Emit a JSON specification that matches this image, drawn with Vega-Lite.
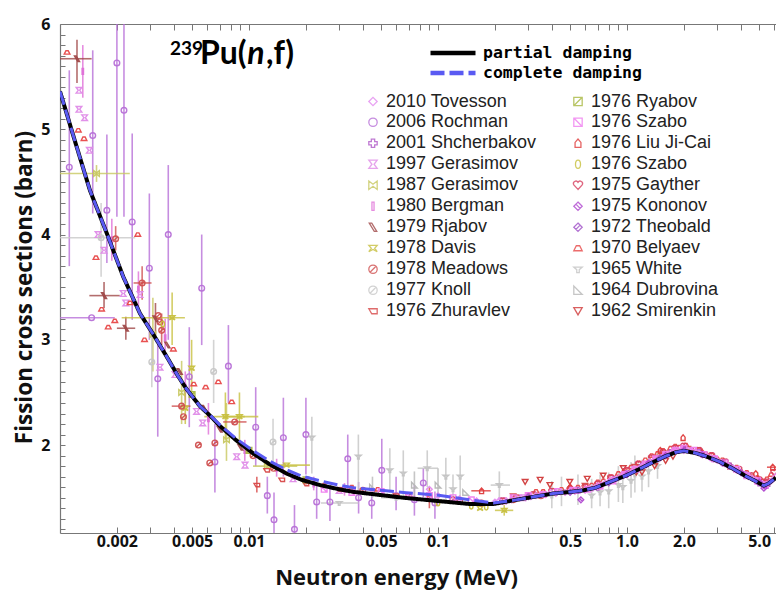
{
"$schema": "https://vega.github.io/schema/vega-lite/v6.json",
"width": 716, "height": 509,
"autosize": "none",
"padding": {"left": 60, "top": 24, "right": 0, "bottom": 58},
"background": "white",
"config": {"view": {"stroke": null}, "font": "Open Sans"},
"datasets": {
"curve": [
{"m":"partial damping","e":0.001,"y":5.36},{"m":"partial damping","e":0.00118,"y":4.93},{"m":"partial damping","e":0.00144,"y":4.42},{"m":"partial damping","e":0.00177,"y":4.01},{"m":"partial damping","e":0.00216,"y":3.60},{"m":"partial damping","e":0.00265,"y":3.25},{"m":"partial damping","e":0.00312,"y":3.05},{"m":"partial damping","e":0.00367,"y":2.84},{"m":"partial damping","e":0.0042,"y":2.66},{"m":"partial damping","e":0.00468,"y":2.53},{"m":"partial damping","e":0.0055,"y":2.37},{"m":"partial damping","e":0.0063,"y":2.27},{"m":"partial damping","e":0.00703,"y":2.18},{"m":"partial damping","e":0.0085,"y":2.05},{"m":"partial damping","e":0.01054,"y":1.92},{"m":"partial damping","e":0.0128,"y":1.82},{"m":"partial damping","e":0.0158,"y":1.73},{"m":"partial damping","e":0.019,"y":1.67},{"m":"partial damping","e":0.0238,"y":1.62},{"m":"partial damping","e":0.03,"y":1.58},{"m":"partial damping","e":0.0356,"y":1.556},{"m":"partial damping","e":0.05,"y":1.525},{"m":"partial damping","e":0.0655,"y":1.50},{"m":"partial damping","e":0.0984,"y":1.47},{"m":"partial damping","e":0.148,"y":1.44},{"m":"partial damping","e":0.196,"y":1.44},{"m":"partial damping","e":0.25,"y":1.475},{"m":"partial damping","e":0.3,"y":1.50},{"m":"partial damping","e":0.407,"y":1.54},{"m":"partial damping","e":0.5,"y":1.555},{"m":"partial damping","e":0.587,"y":1.57},{"m":"partial damping","e":0.68,"y":1.595},{"m":"partial damping","e":0.8,"y":1.645},{"m":"partial damping","e":1.0,"y":1.715},{"m":"partial damping","e":1.2,"y":1.785},{"m":"partial damping","e":1.38,"y":1.84},{"m":"partial damping","e":1.6,"y":1.895},{"m":"partial damping","e":1.8,"y":1.93},{"m":"partial damping","e":2.0,"y":1.945},{"m":"partial damping","e":2.3,"y":1.925},{"m":"partial damping","e":2.6,"y":1.895},{"m":"partial damping","e":3.1,"y":1.84},{"m":"partial damping","e":3.6,"y":1.78},{"m":"partial damping","e":4.2,"y":1.71},{"m":"partial damping","e":4.7,"y":1.665},{"m":"partial damping","e":5.1,"y":1.63},{"m":"partial damping","e":5.3,"y":1.615},{"m":"partial damping","e":5.6,"y":1.635},{"m":"partial damping","e":6.14,"y":1.69},
{"m":"complete damping","e":0.001,"y":5.36},{"m":"complete damping","e":0.00118,"y":4.93},{"m":"complete damping","e":0.00144,"y":4.42},{"m":"complete damping","e":0.00177,"y":4.01},{"m":"complete damping","e":0.00216,"y":3.60},{"m":"complete damping","e":0.00265,"y":3.25},{"m":"complete damping","e":0.00312,"y":3.05},{"m":"complete damping","e":0.00367,"y":2.84},{"m":"complete damping","e":0.0042,"y":2.66},{"m":"complete damping","e":0.00468,"y":2.53},{"m":"complete damping","e":0.0055,"y":2.37},{"m":"complete damping","e":0.0063,"y":2.275},{"m":"complete damping","e":0.00703,"y":2.19},{"m":"complete damping","e":0.0085,"y":2.065},{"m":"complete damping","e":0.01054,"y":1.945},{"m":"complete damping","e":0.0128,"y":1.85},{"m":"complete damping","e":0.0158,"y":1.765},{"m":"complete damping","e":0.019,"y":1.705},{"m":"complete damping","e":0.0238,"y":1.66},{"m":"complete damping","e":0.03,"y":1.62},{"m":"complete damping","e":0.0356,"y":1.596},{"m":"complete damping","e":0.05,"y":1.57},{"m":"complete damping","e":0.0655,"y":1.55},{"m":"complete damping","e":0.0984,"y":1.525},{"m":"complete damping","e":0.148,"y":1.48},{"m":"complete damping","e":0.196,"y":1.45},{"m":"complete damping","e":0.25,"y":1.475},{"m":"complete damping","e":0.3,"y":1.50},{"m":"complete damping","e":0.407,"y":1.54},{"m":"complete damping","e":0.5,"y":1.555},{"m":"complete damping","e":0.587,"y":1.57},{"m":"complete damping","e":0.68,"y":1.595},{"m":"complete damping","e":0.8,"y":1.645},{"m":"complete damping","e":1.0,"y":1.715},{"m":"complete damping","e":1.2,"y":1.785},{"m":"complete damping","e":1.38,"y":1.84},{"m":"complete damping","e":1.6,"y":1.895},{"m":"complete damping","e":1.8,"y":1.93},{"m":"complete damping","e":2.0,"y":1.945},{"m":"complete damping","e":2.3,"y":1.925},{"m":"complete damping","e":2.6,"y":1.895},{"m":"complete damping","e":3.1,"y":1.84},{"m":"complete damping","e":3.6,"y":1.78},{"m":"complete damping","e":4.2,"y":1.71},{"m":"complete damping","e":4.7,"y":1.665},{"m":"complete damping","e":5.1,"y":1.63},{"m":"complete damping","e":5.3,"y":1.615},{"m":"complete damping","e":5.6,"y":1.635},{"m":"complete damping","e":6.14,"y":1.69}
],
"label": [
{"k":"sup","t":"239","tx":0.00382,"ty":5.705},
{"k":"main","t":"Pu(","tx":0.0055,"ty":5.62},
{"k":"it","t":"n","tx":0.0098,"ty":5.62},
{"k":"main","t":",f)","tx":0.0123,"ty":5.62}
],
"pts": [
{"s":"2006 Rochman","e":0.00112,"y":4.64,"yl":3.70,"yh":5.56},
{"s":"2006 Rochman","e":0.00149,"y":4.94,"yl":4.2,"yh":5.75},
{"s":"2006 Rochman","e":0.0020,"y":5.63,"yl":4.17,"yh":6.2},
{"s":"2006 Rochman","e":0.00218,"y":5.18,"yl":4.17,"yh":6.2},
{"s":"2006 Rochman","e":0.00177,"y":4.23,"yl":3.73,"yh":4.95},
{"s":"2006 Rochman","e":0.00241,"y":4.12,"yl":3.19,"yh":4.96},
{"s":"2006 Rochman","e":0.00297,"y":3.68,"yl":3.0,"yh":4.39},
{"s":"2006 Rochman","e":0.00374,"y":4.0,"yl":3.0,"yh":4.66},
{"s":"2006 Rochman","e":0.00562,"y":3.49,"yl":2.95,"yh":4.0},
{"s":"2006 Rochman","e":0.00329,"y":2.63,"yl":2.08,"yh":3.0},
{"s":"2006 Rochman","e":0.00483,"y":2.65,"yl":2.17,"yh":3.12},
{"s":"2006 Rochman","e":0.00778,"y":2.75,"yl":2.40,"yh":3.14},
{"s":"2006 Rochman","e":0.01085,"y":2.17,"yl":1.80,"yh":2.55},
{"s":"2006 Rochman","e":0.0152,"y":2.07,"yl":1.70,"yh":2.45},
{"s":"2006 Rochman","e":0.020,"y":2.10,"yl":1.72,"yh":2.45},
{"s":"2006 Rochman","e":0.0333,"y":1.87,"yl":1.55,"yh":2.10},
{"s":"2006 Rochman","e":0.01356,"y":1.29,"yl":1.165,"yh":1.55},
{"s":"2006 Rochman","e":0.0174,"y":1.20,"yl":1.165,"yh":1.43},
{"s":"2006 Rochman","e":0.0066,"y":1.84,"yl":1.55,"yh":2.2},
{"s":"2006 Rochman","e":0.0504,"y":1.76,"yl":1.55,"yh":2.06},
{"s":"2006 Rochman","e":0.0228,"y":1.46,"yl":1.30,"yh":1.65},
{"s":"2006 Rochman","e":0.0268,"y":1.46,"yl":1.28,"yh":1.62},
{"s":"2006 Rochman","e":0.0446,"y":1.45,"yl":1.30,"yh":1.60},
{"s":"2006 Rochman","e":0.0836,"y":1.64,"yl":1.50,"yh":1.78},
{"s":"2006 Rochman","e":0.0963,"y":1.45,"yl":1.30,"yh":1.56},
{"s":"2006 Rochman","e":0.00147,"y":3.21,"xl":0.001,"xh":0.00195},
{"s":"2006 Rochman","e":0.0125,"y":1.52,"yl":1.35,"yh":1.7},
{"s":"2006 Rochman","e":0.038,"y":1.50,"yl":1.35,"yh":1.65},
{"s":"2006 Rochman","e":0.06,"y":1.52,"yl":1.38,"yh":1.7},
{"s":"2006 Rochman","e":0.075,"y":1.48,"yl":1.33,"yh":1.62},
{"s":"1980 Bergman","e":0.00132,"y":5.55,"yl":5.3,"yh":5.8},
{"s":"1980 Bergman","e":0.00188,"y":3.95,"yl":3.75,"yh":4.15},
{"s":"1980 Bergman","e":0.0026,"y":3.48,"yl":3.3,"yh":3.65},
{"s":"1980 Bergman","e":0.0036,"y":3.02,"yl":2.85,"yh":3.2},
{"s":"1980 Bergman","e":0.0046,"y":2.55,"yl":2.4,"yh":2.7},
{"s":"1980 Bergman","e":0.0061,"y":2.25,"yl":2.1,"yh":2.4},
{"s":"1980 Bergman","e":0.0095,"y":1.95,"yl":1.85,"yh":2.05},
{"s":"1980 Bergman","e":0.014,"y":1.78,"yl":1.7,"yh":1.87},
{"s":"1980 Bergman","e":0.022,"y":1.63,"yl":1.57,"yh":1.7},
{"s":"1980 Bergman","e":0.032,"y":1.58,"yl":1.52,"yh":1.64},
{"s":"1997 Gerasimov","e":0.00126,"y":5.37},{"s":"1997 Gerasimov","e":0.00126,"y":5.19},{"s":"1997 Gerasimov","e":0.00135,"y":5.11},{"s":"1997 Gerasimov","e":0.00143,"y":4.80},{"s":"1997 Gerasimov","e":0.00159,"y":4.0},{"s":"1997 Gerasimov","e":0.00171,"y":3.85},{"s":"1997 Gerasimov","e":0.00216,"y":3.44},{"s":"1997 Gerasimov","e":0.00223,"y":3.35},{"s":"1997 Gerasimov","e":0.00265,"y":3.43},{"s":"1997 Gerasimov","e":0.00338,"y":2.74},{"s":"1997 Gerasimov","e":0.00406,"y":2.67},{"s":"1997 Gerasimov","e":0.00528,"y":2.32},{"s":"1997 Gerasimov","e":0.00569,"y":2.21},{"s":"1997 Gerasimov","e":0.00861,"y":1.89},{"s":"1997 Gerasimov","e":0.00953,"y":1.81},{"s":"1997 Gerasimov","e":0.0171,"y":1.68},{"s":"1997 Gerasimov","e":0.03,"y":1.57},{"s":"1997 Gerasimov","e":0.045,"y":1.55},{"s":"1997 Gerasimov","e":0.22,"y":1.47},{"s":"1997 Gerasimov","e":0.28,"y":1.5},
{"s":"1987 Gerasimov","e":0.00156,"y":4.58,"xl":0.001,"xh":0.00234,"yl":4.5,"yh":4.66},
{"s":"1987 Gerasimov","e":0.0044,"y":2.50,"yl":2.2,"yh":2.8},
{"s":"1987 Gerasimov","e":0.0076,"y":2.05,"yl":1.85,"yh":2.4},
{"s":"1987 Gerasimov","e":0.0031,"y":3.05,"yl":2.7,"yh":3.4},
{"s":"1987 Gerasimov","e":0.0125,"y":1.80,"xl":0.0105,"xh":0.018},
{"s":"1978 Davis","e":0.00392,"y":3.21,"xl":0.00212,"xh":0.00458,"yl":2.95,"yh":3.45},
{"s":"1978 Davis","e":0.00497,"y":2.73,"yl":2.45,"yh":3.0},
{"s":"1978 Davis","e":0.0075,"y":2.27,"xl":0.0058,"xh":0.0095,"yl":2.05,"yh":2.5},
{"s":"1978 Davis","e":0.0089,"y":2.27,"xl":0.0075,"xh":0.0112,"yl":2.05,"yh":2.5},
{"s":"1978 Davis","e":0.0158,"y":1.81,"xl":0.0125,"xh":0.021},
{"s":"1978 Davis","e":0.167,"y":1.40},
{"s":"1978 Davis","e":0.224,"y":1.38,"xl":0.2,"xh":0.25,"yl":1.33,"yh":1.43},
{"s":"1978 Davis","e":0.0046,"y":2.35,"yl":2.2,"yh":2.5},
{"s":"1977 Knoll","e":0.00165,"y":3.97,"xl":0.001,"xh":0.0025,"yl":3.6,"yh":4.3},
{"s":"1977 Knoll","e":0.00306,"y":2.79,"yl":2.55,"yh":3.1},
{"s":"1977 Knoll","e":0.0065,"y":2.70,"yl":2.4,"yh":3.0},
{"s":"1977 Knoll","e":0.0134,"y":2.03,"yl":1.8,"yh":2.25},
{"s":"1965 White","e":0.0215,"y":2.07,"yl":1.73,"yh":2.27},
{"s":"1965 White","e":0.0379,"y":1.89,"yl":1.53,"yh":2.1},
{"s":"1965 White","e":0.0556,"y":1.76,"yl":1.55,"yh":1.97},
{"s":"1965 White","e":0.0655,"y":1.73,"yl":1.5,"yh":1.95},
{"s":"1965 White","e":0.0877,"y":1.78,"xl":0.078,"xh":0.1,"yl":1.6,"yh":1.95},
{"s":"1965 White","e":0.11,"y":1.70,"yl":1.48,"yh":1.88},
{"s":"1965 White","e":0.131,"y":1.70,"yl":1.5,"yh":1.9},
{"s":"1965 White","e":0.211,"y":1.62,"xl":0.19,"xh":0.24,"yl":1.48,"yh":1.75},
{"s":"1965 White","e":0.03,"y":1.45,"xl":0.024,"xh":0.038},
{"s":"1965 White","e":0.06,"y":1.50,"xl":0.05,"xh":0.07},
{"s":"1965 White","e":0.12,"y":1.58,"yl":1.45,"yh":1.72},
{"s":"1965 White","e":0.4,"y":1.52,"yl":1.40,"yh":1.66},
{"s":"1965 White","e":0.45,"y":1.56,"yl":1.42,"yh":1.7},
{"s":"1965 White","e":0.55,"y":1.57,"yl":1.43,"yh":1.72},
{"s":"1965 White","e":0.65,"y":1.52,"yl":1.4,"yh":1.68},
{"s":"1965 White","e":0.72,"y":1.55,"yl":1.42,"yh":1.72},
{"s":"1965 White","e":0.8,"y":1.56,"yl":1.40,"yh":1.74},
{"s":"1965 White","e":0.9,"y":1.62,"yl":1.46,"yh":1.80},
{"s":"1965 White","e":0.95,"y":1.6,"yl":1.45,"yh":1.77},
{"s":"1965 White","e":1.05,"y":1.66,"yl":1.5,"yh":1.84},
{"s":"1965 White","e":1.1,"y":1.72,"yl":1.55,"yh":1.9},
{"s":"1965 White","e":1.2,"y":1.70,"yl":1.56,"yh":1.86},
{"s":"1965 White","e":1.3,"y":1.75,"yl":1.6,"yh":1.9},
{"s":"1965 White","e":1.45,"y":1.80,"yl":1.68,"yh":1.95},
{"s":"1964 Dubrovina","e":0.045,"y":1.60,"yl":1.5,"yh":1.7},
{"s":"1964 Dubrovina","e":0.075,"y":1.62,"yl":1.5,"yh":1.75},
{"s":"1964 Dubrovina","e":0.1,"y":1.62,"yl":1.48,"yh":1.78},
{"s":"1964 Dubrovina","e":0.14,"y":1.55},
{"s":"1970 Belyaev","e":0.00109,"y":5.73},{"s":"1970 Belyaev","e":0.00125,"y":4.99},{"s":"1970 Belyaev","e":0.00134,"y":4.91},{"s":"1970 Belyaev","e":0.00155,"y":3.78},{"s":"1970 Belyaev","e":0.00166,"y":3.29},{"s":"1970 Belyaev","e":0.0018,"y":3.12},{"s":"1970 Belyaev","e":0.00195,"y":3.18},{"s":"1970 Belyaev","e":0.00258,"y":4.0},{"s":"1970 Belyaev","e":0.00235,"y":3.35},{"s":"1970 Belyaev","e":0.00398,"y":2.91},{"s":"1970 Belyaev","e":0.0051,"y":2.58},{"s":"1970 Belyaev","e":0.0059,"y":2.55},{"s":"1970 Belyaev","e":0.00688,"y":2.60},{"s":"1970 Belyaev","e":0.0081,"y":2.41},{"s":"1970 Belyaev","e":0.0028,"y":3.0},{"s":"1970 Belyaev","e":0.025,"y":1.62},{"s":"1970 Belyaev","e":0.035,"y":1.6},{"s":"1970 Belyaev","e":0.048,"y":1.58},
{"s":"1970 Belyaev","e":0.3,"y":1.53},{"s":"1970 Belyaev","e":0.36,"y":1.56},{"s":"1970 Belyaev","e":0.45,"y":1.58},{"s":"1970 Belyaev","e":0.55,"y":1.60},{"s":"1970 Belyaev","e":0.65,"y":1.62},{"s":"1970 Belyaev","e":0.75,"y":1.66},{"s":"1970 Belyaev","e":0.9,"y":1.73},{"s":"1970 Belyaev","e":1.05,"y":1.79},{"s":"1970 Belyaev","e":1.25,"y":1.86},{"s":"1970 Belyaev","e":1.45,"y":1.92},{"s":"1970 Belyaev","e":1.7,"y":1.97},{"s":"1970 Belyaev","e":1.9,"y":1.98},{"s":"1970 Belyaev","e":2.2,"y":1.96},{"s":"1970 Belyaev","e":2.6,"y":1.92},{"s":"1970 Belyaev","e":3.0,"y":1.87},{"s":"1970 Belyaev","e":3.5,"y":1.81},{"s":"1970 Belyaev","e":4.0,"y":1.75},{"s":"1970 Belyaev","e":4.6,"y":1.70},{"s":"1970 Belyaev","e":5.2,"y":1.66},{"s":"1970 Belyaev","e":5.8,"y":1.72},
{"s":"1970 Belyaev","e":0.33,"y":1.56},{"s":"1970 Belyaev","e":0.5,"y":1.6},{"s":"1970 Belyaev","e":0.7,"y":1.65},{"s":"1970 Belyaev","e":0.82,"y":1.7},{"s":"1970 Belyaev","e":0.97,"y":1.76},{"s":"1970 Belyaev","e":1.15,"y":1.83},{"s":"1970 Belyaev","e":1.35,"y":1.9},{"s":"1970 Belyaev","e":1.55,"y":1.95},{"s":"1970 Belyaev","e":1.8,"y":1.99},{"s":"1970 Belyaev","e":2.05,"y":2.0},{"s":"1970 Belyaev","e":2.4,"y":1.96},{"s":"1970 Belyaev","e":2.8,"y":1.91},{"s":"1970 Belyaev","e":3.2,"y":1.86},{"s":"1970 Belyaev","e":3.8,"y":1.79},{"s":"1970 Belyaev","e":4.3,"y":1.74},{"s":"1970 Belyaev","e":4.9,"y":1.69},{"s":"1970 Belyaev","e":5.5,"y":1.68},
{"s":"1962 Smirenkin","e":0.289,"y":1.65},{"s":"1962 Smirenkin","e":0.347,"y":1.67},{"s":"1962 Smirenkin","e":0.391,"y":1.62},{"s":"1962 Smirenkin","e":0.498,"y":1.65},{"s":"1962 Smirenkin","e":0.616,"y":1.68},{"s":"1962 Smirenkin","e":0.748,"y":1.71},{"s":"1962 Smirenkin","e":0.955,"y":1.78},{"s":"1962 Smirenkin","e":1.12,"y":1.74},{"s":"1962 Smirenkin","e":1.2,"y":1.74},{"s":"1962 Smirenkin","e":1.4,"y":1.80},{"s":"1962 Smirenkin","e":1.6,"y":1.85},{"s":"1962 Smirenkin","e":1.75,"y":1.89},
{"s":"1975 Gayther","e":0.22,"y":1.47},{"s":"1975 Gayther","e":0.26,"y":1.50},{"s":"1975 Gayther","e":0.32,"y":1.53},{"s":"1975 Gayther","e":0.4,"y":1.56},{"s":"1975 Gayther","e":0.5,"y":1.58},{"s":"1975 Gayther","e":0.6,"y":1.60},{"s":"1975 Gayther","e":0.7,"y":1.63},{"s":"1975 Gayther","e":0.82,"y":1.69},{"s":"1975 Gayther","e":1.0,"y":1.76},{"s":"1975 Gayther","e":1.15,"y":1.82},{"s":"1975 Gayther","e":1.35,"y":1.88},{"s":"1975 Gayther","e":1.55,"y":1.93},{"s":"1975 Gayther","e":1.8,"y":1.97},{"s":"1975 Gayther","e":2.0,"y":1.99},{"s":"1975 Gayther","e":2.4,"y":1.95},{"s":"1975 Gayther","e":2.8,"y":1.90},{"s":"1975 Gayther","e":3.3,"y":1.84},{"s":"1975 Gayther","e":3.9,"y":1.77},{"s":"1975 Gayther","e":4.5,"y":1.71},{"s":"1975 Gayther","e":5.0,"y":1.67},{"s":"1975 Gayther","e":5.5,"y":1.65},{"s":"1975 Gayther","e":6.0,"y":1.74},
{"s":"1976 Liu Ji-Cai","e":1.98,"y":2.07},{"s":"1976 Liu Ji-Cai","e":0.17,"y":1.566,"xl":0.15,"xh":0.19},{"s":"1976 Liu Ji-Cai","e":0.5,"y":1.6},{"s":"1976 Liu Ji-Cai","e":1.5,"y":1.95},{"s":"1976 Liu Ji-Cai","e":2.5,"y":1.93},{"s":"1976 Liu Ji-Cai","e":3.5,"y":1.8},{"s":"1976 Liu Ji-Cai","e":4.8,"y":1.73},{"s":"1976 Liu Ji-Cai","e":5.9,"y":1.79,"xl":5.5,"xh":6.14},
{"s":"1976 Zhuravlev","e":0.011,"y":1.62,"yl":1.55,"yh":1.7},{"s":"1976 Zhuravlev","e":0.0124,"y":1.76},{"s":"1976 Zhuravlev","e":0.0149,"y":1.67},{"s":"1976 Zhuravlev","e":0.02,"y":1.63},{"s":"1976 Zhuravlev","e":0.03,"y":1.58},{"s":"1976 Zhuravlev","e":0.06,"y":1.52},{"s":"1976 Zhuravlev","e":0.09,"y":1.50,"yl":1.4,"yh":1.6},{"s":"1976 Zhuravlev","e":0.13,"y":1.47},{"s":"1976 Zhuravlev","e":0.25,"y":1.52},{"s":"1976 Zhuravlev","e":0.6,"y":1.62},{"s":"1976 Zhuravlev","e":1.1,"y":1.8},{"s":"1976 Zhuravlev","e":2.1,"y":1.97},
{"s":"1978 Meadows","e":0.00272,"y":3.54,"xl":0.00245,"xh":0.00305,"yl":3.38,"yh":3.7},
{"s":"1978 Meadows","e":0.00197,"y":3.96,"yl":3.85,"yh":4.08},
{"s":"1978 Meadows","e":0.00345,"y":3.09,"yl":2.95,"yh":3.25},
{"s":"1978 Meadows","e":0.00331,"y":3.23},{"s":"1978 Meadows","e":0.00338,"y":3.17},
{"s":"1978 Meadows","e":0.0044,"y":2.37,"xl":0.0039,"xh":0.0049},
{"s":"1978 Meadows","e":0.0045,"y":2.27},{"s":"1978 Meadows","e":0.0054,"y":2.0},{"s":"1978 Meadows","e":0.0062,"y":1.83},{"s":"1978 Meadows","e":0.0066,"y":2.02},
{"s":"1978 Meadows","e":0.0084,"y":2.22,"xl":0.0073,"xh":0.0097},
{"s":"1978 Meadows","e":0.0105,"y":1.9},{"s":"1978 Meadows","e":0.0135,"y":1.78},{"s":"1978 Meadows","e":0.02,"y":1.66},{"s":"1978 Meadows","e":0.04,"y":1.57},{"s":"1978 Meadows","e":0.07,"y":1.52},{"s":"1978 Meadows","e":0.12,"y":1.48},{"s":"1978 Meadows","e":0.17,"y":1.45},{"s":"1978 Meadows","e":0.25,"y":1.48},{"s":"1978 Meadows","e":0.35,"y":1.52},
{"s":"1979 Rjabov","e":0.00123,"y":5.67,"xl":0.001,"xh":0.00147,"yl":5.44,"yh":5.85},
{"s":"1979 Rjabov","e":0.00171,"y":3.42,"xl":0.00143,"xh":0.00207,"yl":3.3,"yh":3.55},
{"s":"1979 Rjabov","e":0.00223,"y":3.11,"xl":0.002,"xh":0.0025,"yl":3.0,"yh":3.22},
{"s":"1979 Rjabov","e":0.0032,"y":3.2,"yl":3.05,"yh":3.35},
{"s":"1979 Rjabov","e":0.0037,"y":2.95},{"s":"1979 Rjabov","e":0.0043,"y":2.7},{"s":"1979 Rjabov","e":0.0058,"y":2.35},{"s":"1979 Rjabov","e":0.007,"y":2.15},{"s":"1979 Rjabov","e":0.009,"y":1.98},
{"s":"2001 Shcherbakov","e":0.55,"y":1.57},{"s":"2001 Shcherbakov","e":0.7,"y":1.6},{"s":"2001 Shcherbakov","e":0.85,"y":1.67},{"s":"2001 Shcherbakov","e":1.0,"y":1.73},{"s":"2001 Shcherbakov","e":1.2,"y":1.80},{"s":"2001 Shcherbakov","e":1.45,"y":1.87},{"s":"2001 Shcherbakov","e":1.7,"y":1.93},{"s":"2001 Shcherbakov","e":2.0,"y":1.96},{"s":"2001 Shcherbakov","e":2.4,"y":1.93},{"s":"2001 Shcherbakov","e":2.9,"y":1.87},{"s":"2001 Shcherbakov","e":3.5,"y":1.80},{"s":"2001 Shcherbakov","e":4.2,"y":1.72},{"s":"2001 Shcherbakov","e":5.0,"y":1.64},{"s":"2001 Shcherbakov","e":5.5,"y":1.62},
{"s":"2010 Tovesson","e":0.1,"y":1.52},{"s":"2010 Tovesson","e":0.13,"y":1.49},{"s":"2010 Tovesson","e":0.16,"y":1.47},{"s":"2010 Tovesson","e":0.09,"y":1.58},
{"s":"2010 Tovesson","e":0.2,"y":1.46},{"s":"2010 Tovesson","e":0.23,"y":1.47},{"s":"2010 Tovesson","e":0.26,"y":1.49},{"s":"2010 Tovesson","e":0.29,"y":1.50},{"s":"2010 Tovesson","e":0.33,"y":1.52},{"s":"2010 Tovesson","e":0.37,"y":1.53},{"s":"2010 Tovesson","e":0.42,"y":1.54},{"s":"2010 Tovesson","e":0.47,"y":1.55},{"s":"2010 Tovesson","e":0.53,"y":1.56},{"s":"2010 Tovesson","e":0.6,"y":1.57},{"s":"2010 Tovesson","e":0.66,"y":1.59},{"s":"2010 Tovesson","e":0.73,"y":1.62},{"s":"2010 Tovesson","e":0.8,"y":1.65},{"s":"2010 Tovesson","e":0.88,"y":1.68},{"s":"2010 Tovesson","e":0.96,"y":1.71},{"s":"2010 Tovesson","e":1.05,"y":1.74},{"s":"2010 Tovesson","e":1.15,"y":1.77},{"s":"2010 Tovesson","e":1.26,"y":1.81},{"s":"2010 Tovesson","e":1.38,"y":1.85},{"s":"2010 Tovesson","e":1.5,"y":1.88},{"s":"2010 Tovesson","e":1.65,"y":1.91},{"s":"2010 Tovesson","e":1.8,"y":1.94},{"s":"2010 Tovesson","e":1.95,"y":1.955},{"s":"2010 Tovesson","e":2.1,"y":1.95},{"s":"2010 Tovesson","e":2.3,"y":1.935},{"s":"2010 Tovesson","e":2.5,"y":1.91},{"s":"2010 Tovesson","e":2.75,"y":1.88},{"s":"2010 Tovesson","e":3.0,"y":1.855},{"s":"2010 Tovesson","e":3.3,"y":1.82},{"s":"2010 Tovesson","e":3.65,"y":1.78},{"s":"2010 Tovesson","e":4.0,"y":1.74},{"s":"2010 Tovesson","e":4.4,"y":1.70},{"s":"2010 Tovesson","e":4.8,"y":1.67},{"s":"2010 Tovesson","e":5.2,"y":1.635},{"s":"2010 Tovesson","e":5.5,"y":1.63},{"s":"2010 Tovesson","e":5.8,"y":1.66},{"s":"2010 Tovesson","e":6.1,"y":1.70},
{"s":"2010 Tovesson","e":0.21,"y":1.47},{"s":"2010 Tovesson","e":0.245,"y":1.48},{"s":"2010 Tovesson","e":0.275,"y":1.5},{"s":"2010 Tovesson","e":0.31,"y":1.51},{"s":"2010 Tovesson","e":0.35,"y":1.53},{"s":"2010 Tovesson","e":0.395,"y":1.55},{"s":"2010 Tovesson","e":0.445,"y":1.555},{"s":"2010 Tovesson","e":0.5,"y":1.565},{"s":"2010 Tovesson","e":0.565,"y":1.57},{"s":"2010 Tovesson","e":0.63,"y":1.585},{"s":"2010 Tovesson","e":0.695,"y":1.61},{"s":"2010 Tovesson","e":0.765,"y":1.64},{"s":"2010 Tovesson","e":0.84,"y":1.67},{"s":"2010 Tovesson","e":0.92,"y":1.7},{"s":"2010 Tovesson","e":1.0,"y":1.73},{"s":"2010 Tovesson","e":1.1,"y":1.76},{"s":"2010 Tovesson","e":1.2,"y":1.8},{"s":"2010 Tovesson","e":1.32,"y":1.84},{"s":"2010 Tovesson","e":1.44,"y":1.87},{"s":"2010 Tovesson","e":1.57,"y":1.9},{"s":"2010 Tovesson","e":1.72,"y":1.93},{"s":"2010 Tovesson","e":1.87,"y":1.95},{"s":"2010 Tovesson","e":2.2,"y":1.945},{"s":"2010 Tovesson","e":2.4,"y":1.925},{"s":"2010 Tovesson","e":2.62,"y":1.9},{"s":"2010 Tovesson","e":2.87,"y":1.87},{"s":"2010 Tovesson","e":3.15,"y":1.835},{"s":"2010 Tovesson","e":3.45,"y":1.8},{"s":"2010 Tovesson","e":3.8,"y":1.76},{"s":"2010 Tovesson","e":4.2,"y":1.72},{"s":"2010 Tovesson","e":4.6,"y":1.685},{"s":"2010 Tovesson","e":5.0,"y":1.65},{"s":"2010 Tovesson","e":5.35,"y":1.62},
{"s":"1976 Szabo","e":0.25,"y":1.5},{"s":"1976 Szabo","e":0.3,"y":1.52},{"s":"1976 Szabo","e":0.36,"y":1.53},{"s":"1976 Szabo","e":0.43,"y":1.56},{"s":"1976 Szabo","e":0.52,"y":1.57},{"s":"1976 Szabo","e":0.62,"y":1.58},{"s":"1976 Szabo","e":0.72,"y":1.61},{"s":"1976 Szabo","e":0.84,"y":1.66},{"s":"1976 Szabo","e":0.97,"y":1.72},{"s":"1976 Szabo","e":1.1,"y":1.77},{"s":"1976 Szabo","e":1.25,"y":1.82},{"s":"1976 Szabo","e":1.42,"y":1.87},{"s":"1976 Szabo","e":1.6,"y":1.91},{"s":"1976 Szabo","e":1.8,"y":1.95},{"s":"1976 Szabo","e":2.0,"y":1.97},{"s":"1976 Szabo","e":2.25,"y":1.95},{"s":"1976 Szabo","e":2.55,"y":1.91},{"s":"1976 Szabo","e":2.9,"y":1.87},{"s":"1976 Szabo","e":3.3,"y":1.83},{"s":"1976 Szabo","e":3.8,"y":1.77},{"s":"1976 Szabo","e":4.3,"y":1.71},{"s":"1976 Szabo","e":4.9,"y":1.66},{"s":"1976 Szabo","e":5.4,"y":1.62},
{"s":"1976 Szabo","e":0.025,"y":1.58},{"s":"1976 Szabo","e":0.035,"y":1.55},{"s":"1976 Szabo","e":0.05,"y":1.56},{"s":"1976 Szabo","e":0.07,"y":1.52},{"s":"1976 Szabo","e":0.09,"y":1.52},{"s":"1976 Szabo","e":0.12,"y":1.5},{"s":"1976 Szabo","e":0.15,"y":1.48},
{"s":"1975 Kononov","e":0.57,"y":1.48},{"s":"1975 Kononov","e":1.0,"y":1.72},{"s":"1975 Kononov","e":1.3,"y":1.83},{"s":"1975 Kononov","e":1.6,"y":1.90},{"s":"1975 Kononov","e":2.0,"y":1.95},{"s":"1975 Kononov","e":2.5,"y":1.91},{"s":"1975 Kononov","e":3.2,"y":1.83},{"s":"1975 Kononov","e":4.0,"y":1.74},{"s":"1975 Kononov","e":5.0,"y":1.65},{"s":"1975 Kononov","e":5.3,"y":1.59},
{"s":"1972 Theobald","e":0.3,"y":1.51},{"s":"1972 Theobald","e":0.5,"y":1.55},{"s":"1972 Theobald","e":0.8,"y":1.64},{"s":"1972 Theobald","e":1.5,"y":1.88},
{"s":"1976 Ryabov","e":0.005,"y":2.48},{"s":"1976 Ryabov","e":0.01,"y":1.95},{"s":"1976 Ryabov","e":0.02,"y":1.67},
{"s":"1976 Szabo*","e":0.1,"y":1.45},{"s":"1976 Szabo*","e":0.15,"y":1.42},{"s":"1976 Szabo*","e":0.18,"y":1.41},{"s":"1976 Szabo*","e":0.0035,"y":3.15}
]
},
"layer": [
{
 "data": {"name": "pts"},
 "transform": [{"filter": "isValid(datum.yl)"}],
 "mark": {"type": "rule", "strokeWidth": 1.6, "opacity": 0.8, "clip": true},
 "encoding": {
  "x": {"field": "e", "type": "quantitative", "scale": {"type": "log", "domain": [0.001, 6.14], "nice": false},
   "axis": {"orient": "bottom", "title": "Neutron energy (MeV)", "values": [0.002,0.003,0.004,0.005,0.006,0.007,0.008,0.009,0.01,0.02,0.03,0.04,0.05,0.06,0.07,0.08,0.09,0.1,0.2,0.3,0.4,0.5,0.6,0.7,0.8,0.9,1,2,3,4,5,6],
    "labelExpr": "datum.value == 0.002 ? '0.002' : datum.value == 0.005 ? '0.005' : datum.value == 0.01 ? '0.01' : datum.value == 0.05 ? '0.05' : datum.value == 0.1 ? '0.1' : datum.value == 0.5 ? '0.5' : datum.value == 1 ? '1.0' : datum.value == 2 ? '2.0' : datum.value == 5 ? '5.0' : ''",
    "labelOverlap": false, "labelFlush": false, "labelFont": "Open Sans", "labelFontWeight": "bold", "labelFontSize": 16, "labelColor": "#111", "labelPadding": 6,
    "tickSize": -6, "tickColor": "#777", "domainColor": "#777", "domainWidth": 1.2, "grid": false,
    "titleFont": "Open Sans", "titleFontSize": 22, "titleFontWeight": "bold", "titleColor": "#111", "titleX": 336, "titlePadding": 18}},
  "y": {"field": "yl", "type": "quantitative", "scale": {"domain": [1.165, 6], "nice": false, "zero": false},
   "axis": {"title": "Fission cross sections (barn)", "values": [1.2,1.3,1.4,1.5,1.6,1.7,1.8,1.9,2,2.1,2.2,2.3,2.4,2.5,2.6,2.7,2.8,2.9,3,3.1,3.2,3.3,3.4,3.5,3.6,3.7,3.8,3.9,4,4.1,4.2,4.3,4.4,4.5,4.6,4.7,4.8,4.9,5,5.1,5.2,5.3,5.4,5.5,5.6,5.7,5.8,5.9,6],
    "labelExpr": "abs(datum.value - round(datum.value)) < 0.001 ? format(datum.value, 'd') : ''",
    "labelOverlap": false, "labelFlush": false, "labelFont": "Open Sans", "labelFontWeight": "bold", "labelFontSize": 16, "labelColor": "#111", "labelPadding": 15,
    "tickSize": -5, "tickColor": "#777", "domainColor": "#777", "domainWidth": 1.2, "grid": false,
    "titleFont": "Open Sans", "titleFontSize": 22.5, "titleFontWeight": "bold", "titleColor": "#111", "titlePadding": 4, "titleY": 263}},
  "y2": {"field": "yh"},
  "color": {"field": "s", "type": "nominal"}
 }
},
{
 "data": {"name": "pts"},
 "transform": [{"filter": "isValid(datum.xl)"}],
 "mark": {"type": "rule", "strokeWidth": 1.6, "opacity": 0.8, "clip": true},
 "encoding": {
  "x": {"field": "xl", "type": "quantitative", "scale": {"type": "log", "domain": [0.001, 6.14], "nice": false}, "axis": null},
  "x2": {"field": "xh"},
  "y": {"field": "y", "type": "quantitative", "scale": {"domain": [1.165, 6], "nice": false, "zero": false}, "axis": null},
  "color": {"field": "s", "type": "nominal"}
 }
},
{
 "data": {"name": "pts"},
 "mark": {"type": "point", "filled": false, "size": 32, "strokeWidth": 1.4, "opacity": 0.95, "clip": true},
 "encoding": {
  "x": {"field": "e", "type": "quantitative", "scale": {"type": "log", "domain": [0.001, 6.14], "nice": false}, "axis": null},
  "y": {"field": "y", "type": "quantitative", "scale": {"domain": [1.165, 6], "nice": false, "zero": false}, "axis": null},
  "color": {"field": "s", "type": "nominal",
   "scale": {"domain": ["2010 Tovesson","2006 Rochman","2001 Shcherbakov","1997 Gerasimov","1987 Gerasimov","1980 Bergman","1979 Rjabov","1978 Davis","1978 Meadows","1977 Knoll","1976 Zhuravlev","1976 Ryabov","1976 Szabo","1976 Liu Ji-Cai","1976 Szabo*","1975 Gayther","1975 Kononov","1972 Theobald","1970 Belyaev","1965 White","1964 Dubrovina","1962 Smirenkin"],
    "range": ["#e48cf0","#b870d8","#b058c8","#e08ce8","#c8c860","#e070d8","#a04848","#c8c040","#d05050","#c8c8c8","#d84848","#a8b840","#f07ef0","#e03c3c","#c8c03c","#d84060","#b048d0","#a050c8","#e84848","#c4c4c4","#b8b8b8","#d03838"]},
   "legend": {"title": null, "orient": "none", "legendX": 304, "legendY": 67, "columns": 2, "padding": 0, "labelFont": "Liberation Sans", "labelFontSize": 18, "labelColor": "#222", "symbolSize": 70, "symbolStrokeWidth": 1.3, "clipHeight": 20.5, "rowPadding": 0, "columnPadding": 32, "labelOffset": 4, "labelLimit": 300, "labelExpr": "replace(datum.label, '*', '')"}},
  "shape": {"field": "s", "type": "nominal",
   "scale": {"domain": ["2010 Tovesson","2006 Rochman","2001 Shcherbakov","1997 Gerasimov","1987 Gerasimov","1980 Bergman","1979 Rjabov","1978 Davis","1978 Meadows","1977 Knoll","1976 Zhuravlev","1976 Ryabov","1976 Szabo","1976 Liu Ji-Cai","1976 Szabo*","1975 Gayther","1975 Kononov","1972 Theobald","1970 Belyaev","1965 White","1964 Dubrovina","1962 Smirenkin"],
    "range": ["diamond","circle","cross","M-1,-1L1,-1L0.25,0L1,1L-1,1L-0.25,0Z","M-1,-1L0,-0.25L1,-1L1,1L0,0.25L-1,1Z","M-0.25,-1L0.25,-1L0.25,1L-0.25,1Z","M-0.9,-1L-0.3,-1L0.9,1L0.3,1Z","M-1,-0.7L1,-0.7L0.4,0L1,0.8L0,0.3L-1,0.8L-0.4,0Z","M-1,0A1,1 0 1,0 1,0A1,1 0 1,0 -1,0ZM-0.7,0.7L0.7,-0.7","M-1,0A1,1 0 1,0 1,0A1,1 0 1,0 -1,0ZM-0.7,0.7L0.7,-0.7","M-1,-0.6L1,-0.6L1,0.6L-0.3,0.6Z","M-1,-1L1,-1L1,1L-1,1ZM-1,1L1,-1","M-1,-1L1,-1L1,1L-1,1ZM-1,-1L1,1","M-0.7,1L-0.7,-0.2L0,-1L0.7,-0.2L0.7,1Z","M0,-1A0.6,1 0 1,1 0,1A0.6,1 0 1,1 0,-1Z","M0,1L-1,-0.1A0.5,0.5 0 0,1 0,-0.7A0.5,0.5 0 0,1 1,-0.1Z","M0,-1L1,0L0,1L-1,0ZM-0.5,-0.5L0.5,0.5","M0,-1L1,0L0,1L-1,0ZM-0.5,0.5L0.5,-0.5","M-1,0.6L1,0.6L0.4,-0.6L-0.4,-0.6Z","M-1,-0.5L1,-0.5L0.3,0.1L0.3,0.8L-0.3,0.8L-0.3,0.1Z","M-1,1L1,1L-1,-1Z","triangle-down"]},
   "legend": {"title": null, "orient": "none", "legendX": 304, "legendY": 67, "columns": 2, "padding": 0, "labelFont": "Liberation Sans", "labelFontSize": 18, "labelColor": "#222", "symbolSize": 70, "symbolStrokeWidth": 1.3, "clipHeight": 20.5, "rowPadding": 0, "columnPadding": 32, "labelOffset": 4, "labelLimit": 300, "labelExpr": "replace(datum.label, '*', '')"}}
 }
},
{
 "data": {"name": "curve"},
 "transform": [{"filter": "datum.m == 'partial damping'"}],
 "mark": {"type": "line", "strokeWidth": 4, "clip": true},
 "encoding": {
  "x": {"field": "e", "type": "quantitative", "scale": {"type": "log", "domain": [0.001, 6.14], "nice": false},
   "axis": {"orient": "top", "title": null, "labels": false, "values": [0.002,0.003,0.004,0.005,0.006,0.007,0.008,0.009,0.01,0.02,0.03,0.04,0.05,0.06,0.07,0.08,0.09,0.1,0.2,0.3,0.4,0.5,0.6,0.7,0.8,0.9,1,2,3,4,5,6], "tickSize": -6, "tickColor": "#777", "domainColor": "#777", "domainWidth": 1.2, "grid": false}},
  "y": {"field": "y", "type": "quantitative", "scale": {"domain": [1.165, 6], "nice": false, "zero": false}, "axis": null},
  "stroke": {"field": "m", "type": "nominal", "scale": {"domain": ["partial damping", "complete damping"], "range": ["#000000", "#5a5af2"]},
   "legend": {"title": null, "orient": "none", "legendX": 368, "legendY": 19, "padding": 0, "symbolType": "stroke", "symbolSize": 2025, "symbolStrokeWidth": 4.5, "clipHeight": 20, "rowPadding": 0, "labelFont": "DejaVu Sans Mono", "labelFontWeight": "bold", "labelFontSize": 16.5, "labelColor": "#000", "labelOffset": 5, "labelLimit": 300}},
  "strokeDash": {"field": "m", "type": "nominal", "scale": {"domain": ["partial damping", "complete damping"], "range": [[1, 0], [14, 5]]},
   "legend": {"title": null, "orient": "none", "legendX": 368, "legendY": 19, "padding": 0, "symbolType": "stroke", "symbolSize": 2025, "symbolStrokeWidth": 4.5, "clipHeight": 20, "rowPadding": 0, "labelFont": "DejaVu Sans Mono", "labelFontWeight": "bold", "labelFontSize": 16.5, "labelColor": "#000", "labelOffset": 5, "labelLimit": 300}}
 }
},
{
 "data": {"name": "curve"},
 "transform": [{"filter": "datum.m == 'complete damping'"}],
 "mark": {"type": "line", "strokeWidth": 3, "clip": true},
 "encoding": {
  "x": {"field": "e", "type": "quantitative", "scale": {"type": "log", "domain": [0.001, 6.14], "nice": false}, "axis": null},
  "y": {"field": "y", "type": "quantitative", "scale": {"domain": [1.165, 6], "nice": false, "zero": false}, "axis": null},
  "stroke": {"field": "m", "type": "nominal"},
  "strokeDash": {"field": "m", "type": "nominal"}
 }
},
{
 "data": {"name": "label"},
 "transform": [{"filter": "datum.k == 'sup'"}],
 "mark": {"type": "text", "align": "left", "baseline": "alphabetic", "font": "Lato", "fontWeight": "bold", "fontSize": 19, "color": "#000"},
 "encoding": {
  "x": {"field": "tx", "type": "quantitative", "scale": {"type": "log", "domain": [0.001, 6.14], "nice": false}, "axis": null},
  "y": {"field": "ty", "type": "quantitative", "scale": {"domain": [1.165, 6], "nice": false, "zero": false}, "axis": null},
  "text": {"field": "t"}
 }
},
{
 "data": {"name": "label"},
 "transform": [{"filter": "datum.k == 'main'"}],
 "mark": {"type": "text", "align": "left", "baseline": "alphabetic", "font": "Lato", "fontWeight": "bold", "fontSize": 32, "color": "#000"},
 "encoding": {
  "x": {"field": "tx", "type": "quantitative", "scale": {"type": "log", "domain": [0.001, 6.14], "nice": false}, "axis": null},
  "y": {"field": "ty", "type": "quantitative", "scale": {"domain": [1.165, 6], "nice": false, "zero": false}, "axis": null},
  "text": {"field": "t"}
 }
},
{
 "data": {"name": "label"},
 "transform": [{"filter": "datum.k == 'it'"}],
 "mark": {"type": "text", "align": "left", "baseline": "alphabetic", "font": "Lato", "fontWeight": "bold", "fontStyle": "italic", "fontSize": 32, "color": "#000"},
 "encoding": {
  "x": {"field": "tx", "type": "quantitative", "scale": {"type": "log", "domain": [0.001, 6.14], "nice": false}, "axis": null},
  "y": {"field": "ty", "type": "quantitative", "scale": {"domain": [1.165, 6], "nice": false, "zero": false}, "axis": null},
  "text": {"field": "t"}
 }
}
],
"resolve": {"axis": {"x": "independent", "y": "independent"}}
}
